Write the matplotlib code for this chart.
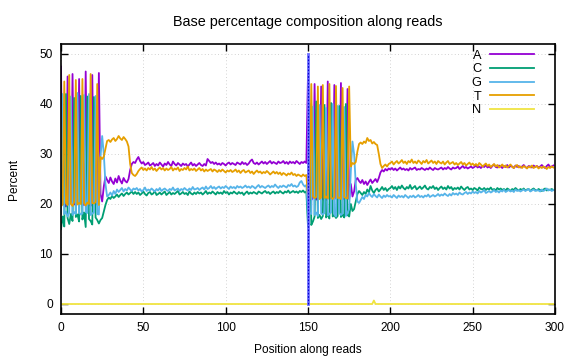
import numpy as np
import matplotlib
matplotlib.use("Agg")
import matplotlib.pyplot as plt

# ── Daten: Basenanteile je Position (Read 1: 0-149, Read 2: 150-299) ─────────

a_read1 = [47.5, 20.5, 20.0, 19.5, 45.5, 20.0, 20.5, 46.0, 20.0, 19.8,
           20.2, 45.0, 20.5, 20.0, 19.8, 46.5, 20.0, 20.3, 19.6, 45.8,
           20.2, 20.0, 19.9, 46.2, 22.0, 20.5, 23.5, 25.5, 24.8, 24.2,
           25.3, 24.5, 24.0, 25.1, 24.3, 25.6, 24.7, 24.1, 25.2, 24.6,
           24.3, 25.0, 26.8, 28.0, 28.4, 28.2, 28.9, 29.4, 28.6, 28.1,
           28.4, 27.8, 28.0, 28.3, 27.7, 27.9, 28.2, 27.6, 28.0, 27.7,
           28.3, 27.9, 27.5, 28.1, 27.8, 28.4, 27.9, 27.6, 28.5, 28.0,
           27.7, 28.2, 27.9, 27.6, 28.1, 27.8, 28.0, 27.5, 27.9, 28.3,
           27.7, 28.0, 27.6, 27.9, 28.2, 27.8, 27.6, 28.0, 27.7, 29.0,
           28.6, 28.2, 28.4, 28.0, 28.3, 27.9, 28.1, 27.8, 28.2, 28.0,
           27.7, 28.1, 28.3, 27.9, 28.2, 28.0, 27.8, 28.3, 28.1, 27.9,
           28.4, 28.0, 28.2, 27.8, 28.1, 28.6, 28.9, 28.2, 28.0, 28.3,
           27.9, 28.2, 28.5, 28.1, 28.4, 28.0, 28.3, 28.6, 28.1, 28.4,
           28.2, 28.0, 28.5, 28.2, 28.3, 28.6, 28.1, 28.4, 28.0, 28.5,
           28.2, 28.4, 28.1, 28.6, 28.3, 28.0, 28.4, 28.2, 28.5, 28.2]
c_read1 = [15.0, 17.5, 15.5, 42.0, 17.2, 16.0, 18.0, 16.6, 41.2, 17.4,
           17.9, 16.5, 41.6, 16.9, 18.3, 15.4, 41.5, 17.0, 16.6, 15.9,
           41.4, 17.3, 16.8, 16.1, 16.8, 17.2, 18.5, 19.8, 20.8, 21.3,
           21.0, 21.6, 21.2, 21.5, 21.9, 21.4, 21.8, 22.1, 21.6, 22.0,
           22.3, 21.9, 22.2, 22.5, 22.0, 22.4, 22.0, 22.3, 21.8, 22.1,
           22.5, 22.0, 21.7, 22.2, 22.4, 21.9, 22.1, 22.6, 21.8, 22.0,
           22.3, 21.9, 22.2, 22.5, 21.8, 22.1, 22.4, 21.9, 22.2, 22.0,
           22.3, 22.6, 21.9, 22.1, 22.4, 22.0, 22.2, 21.8, 22.5, 22.1,
           21.9, 22.3, 22.0, 22.4, 22.1, 22.3, 21.9, 22.2, 22.6, 22.0,
           22.3, 22.1, 22.5, 22.2, 21.9, 22.4, 22.1, 22.3, 22.0, 22.6,
           22.2, 22.4, 21.9, 22.3, 22.1, 22.5, 22.2, 22.0, 22.4, 22.1,
           22.3, 21.8, 22.2, 22.5, 22.0, 22.3, 22.1, 22.4, 22.2, 22.0,
           22.5, 22.3, 22.1, 22.4, 22.6, 22.2, 22.4, 22.0, 22.3, 22.5,
           22.1, 22.4, 22.2, 22.6, 22.3, 22.1, 22.5, 22.3, 22.7, 22.2,
           22.4, 22.6, 22.3, 22.5, 22.2, 22.6, 22.4, 22.7, 22.3, 22.5]
g_read1 = [18.0, 42.0, 18.0, 18.5, 17.5, 18.2, 41.5, 17.8, 18.4, 18.0,
           42.2, 18.3, 17.9, 18.1, 41.8, 18.4, 18.2, 42.0, 17.8, 18.1,
           18.3, 41.6, 18.0, 17.9, 29.5, 33.6, 30.0, 24.0, 21.5, 21.8,
           22.3, 21.7, 22.6, 22.0, 22.9, 22.4, 22.8, 23.2, 22.5, 23.0,
           22.7, 23.3, 22.9, 22.6, 23.1, 22.9, 23.2, 22.7, 23.0, 22.5,
           22.8, 23.3, 22.6, 22.9, 22.7, 23.1, 22.8, 22.5, 23.0, 22.7,
           23.2, 22.6, 22.9, 23.1, 22.8, 22.6, 23.0, 22.8, 23.3, 22.7,
           22.9, 23.1, 22.6, 23.0, 22.8, 23.2, 22.9, 22.7, 23.1, 22.8,
           23.4, 22.9, 23.0, 23.2, 22.8, 23.1, 23.3, 22.9, 23.5, 23.0,
           23.2, 23.6, 23.1, 23.4, 23.0, 23.3, 23.5, 23.1, 23.4, 23.2,
           23.6, 23.3, 23.0, 23.5, 23.2, 23.4, 23.1, 23.6, 23.3, 23.5,
           23.2, 23.4, 23.7, 23.3, 23.5, 23.2, 23.6, 23.4, 23.1, 23.5,
           23.8, 23.3, 23.6, 23.4, 23.2, 23.5, 23.7, 23.3, 23.6, 23.4,
           23.9, 23.5, 23.2, 23.6, 23.4, 23.7, 23.5, 23.3, 23.8, 23.6,
           24.0, 23.5, 23.7, 23.4, 23.6, 24.3, 24.6, 23.9, 23.5, 23.8]
t_read1 = [19.5, 20.0, 44.5, 20.2, 19.8, 45.8, 20.0, 19.6, 20.4, 44.8,
           19.9, 20.2, 20.0, 45.0, 20.1, 19.7, 20.3, 20.0, 46.0, 20.2,
           20.1, 20.4, 44.0, 19.8, 29.4, 29.0, 29.5, 31.0, 32.6, 32.8,
           32.4, 32.9, 33.2, 32.6, 33.0, 33.6, 33.1, 32.8, 33.4, 33.0,
           32.5, 31.5, 28.0, 26.2, 25.8, 25.6, 26.0, 26.6, 27.0, 27.3,
           26.8, 27.1, 26.7, 27.2, 26.9, 27.4, 26.8, 27.1, 26.6, 27.0,
           27.3, 26.9, 27.2, 26.7, 27.1, 26.8, 27.0, 27.4, 26.7, 27.1,
           26.9, 27.3, 26.6, 27.0, 26.8, 27.2, 26.9, 27.5, 26.7, 27.0,
           26.8, 27.1, 26.6, 26.9, 27.2, 26.7, 27.0, 26.5, 26.9, 26.6,
           26.8, 27.0, 26.5, 26.9, 26.7, 26.4, 26.8, 26.5, 26.9, 26.6,
           26.3, 26.7, 26.5, 26.8, 26.4, 26.6, 26.9, 26.4, 26.7, 26.2,
           26.6, 26.8, 26.3, 26.5, 26.7, 26.2, 26.5, 26.0, 26.4, 26.7,
           26.3, 26.5, 26.1, 26.4, 26.2, 26.6, 26.3, 25.9, 26.2, 26.5,
           26.1, 26.4, 26.0, 26.3, 25.8, 26.2, 26.0, 25.7, 26.1, 25.9,
           26.3, 25.8, 26.0, 25.6, 25.9, 25.7, 25.5, 25.9, 25.6, 25.8]

a_read2 = [46.0, 21.0, 20.8, 21.2, 44.0, 21.0, 20.7, 21.3, 43.5, 20.9,
           21.1, 20.8, 44.5, 21.0, 21.2, 20.9, 43.8, 21.1, 20.8, 21.0,
           44.2, 21.2, 20.9, 21.1, 43.0, 21.0, 24.0, 21.5, 22.5, 24.8,
           25.2, 24.6, 24.2, 24.8, 24.0, 24.5, 23.8, 24.4, 24.9, 24.2,
           24.6, 25.0, 24.4, 25.2, 26.3, 26.8, 26.5, 27.0, 26.7, 27.1,
           26.9, 27.2, 26.8, 27.1, 26.7, 27.0, 27.3, 26.9, 27.1, 26.8,
           27.0, 26.7, 27.2, 26.9, 27.1, 27.3, 26.8, 27.0, 26.9, 27.2,
           27.0, 26.8, 27.1, 26.9, 27.3, 27.0, 26.8, 27.2, 27.0, 26.9,
           27.1, 27.3, 26.9, 27.2, 27.0, 27.4, 27.1, 26.9, 27.3, 27.1,
           27.2, 27.5, 27.0, 27.3, 27.6, 27.2, 27.4, 27.1, 27.3, 27.5,
           27.2, 27.4, 27.7, 27.3, 27.5, 27.2, 27.6, 27.4, 27.8, 27.3,
           27.5, 27.2, 27.6, 27.9, 27.4, 27.3, 27.7, 27.5, 27.2, 27.6,
           27.4, 27.8, 27.3, 27.6, 27.5, 27.2, 27.7, 27.4, 27.6, 27.3,
           27.5, 27.8, 27.4, 27.2, 27.6, 27.5, 27.3, 27.7, 27.4, 27.6,
           27.3, 27.5, 27.8, 27.4, 27.2, 27.6, 27.9, 27.4, 27.5, 27.7]
c_read2 = [15.5, 40.0, 15.8, 16.5, 17.5, 40.5, 17.2, 17.8, 17.0, 17.6,
           39.8, 17.3, 17.9, 17.1, 40.2, 17.5, 17.8, 17.2, 17.6, 39.6,
           17.4, 17.9, 17.3, 40.0, 17.8, 17.5, 20.0, 18.6, 19.0, 20.5,
           22.0, 22.6, 22.2, 21.8, 22.4, 22.0, 22.9, 22.3, 23.6, 22.7,
           22.2, 22.8, 23.1, 22.5, 22.9, 23.4, 22.8, 23.2, 22.6, 23.0,
           23.2, 23.6, 23.0, 23.4, 22.8, 23.5, 23.1, 23.7, 23.2, 22.9,
           23.4, 23.1, 23.8, 23.0, 23.3, 23.6, 22.9, 23.2, 23.5, 23.0,
           23.3, 23.7, 23.1, 22.9, 23.4, 23.2, 23.6, 23.0, 23.3, 22.8,
           23.2, 23.5, 23.0, 23.3, 22.9, 23.6, 23.1, 23.4, 22.8, 23.2,
           23.0, 23.3, 22.9, 23.5, 23.1, 22.8, 23.2, 23.4, 22.9, 23.1,
           22.8, 23.2, 23.0, 22.7, 23.3, 23.0, 22.9, 23.2, 22.8, 23.1,
           22.9, 23.3, 22.8, 23.0, 22.7, 23.2, 22.9, 23.1, 22.8, 23.0,
           22.7, 23.1, 22.9, 22.6, 23.0, 22.8, 23.2, 22.9, 22.7, 23.0,
           22.8, 23.1, 22.7, 22.9, 23.0, 22.6, 22.9, 23.1, 22.8, 22.7,
           23.0, 22.8, 22.6, 22.9, 23.1, 22.7, 22.9, 22.8, 23.0, 22.8]
g_read2 = [17.8, 18.2, 18.0, 39.5, 17.8, 18.3, 17.6, 39.8, 18.1, 17.9,
           18.2, 39.2, 17.7, 18.0, 18.3, 40.0, 17.9, 17.5, 39.6, 18.2,
           17.8, 18.1, 39.4, 17.6, 18.2, 19.0, 26.5, 32.5, 30.0, 24.0,
           20.5, 20.2, 20.8, 21.4, 21.0, 21.8, 21.5, 22.2, 21.7, 21.4,
           22.0, 21.6, 21.3, 21.9, 21.5, 21.2, 21.7, 21.4, 21.8, 21.5,
           21.6, 21.3, 21.8, 21.5, 21.2, 21.7, 21.4, 21.6, 21.3, 21.8,
           21.5, 21.2, 21.6, 21.4, 21.7, 21.3, 21.5, 21.8, 21.4, 21.6,
           21.3, 21.7, 21.5, 21.9, 21.4, 21.6, 21.8, 21.5, 21.7, 22.0,
           21.6, 21.9, 21.7, 22.1, 21.8, 21.6, 22.0, 21.7, 22.2, 21.9,
           22.1, 21.8, 22.3, 22.0, 21.9, 22.2, 22.4, 22.0, 22.3, 22.1,
           22.5, 22.2, 22.4, 22.1, 22.6, 22.3, 22.5, 22.8, 22.2, 22.4,
           22.6, 22.3, 22.5, 22.8, 22.4, 22.6, 22.3, 22.7, 22.5, 22.9,
           22.4, 22.6, 22.8, 22.5, 22.7, 22.4, 22.9, 22.6, 22.8, 22.5,
           22.7, 22.9, 22.6, 22.8, 23.0, 22.5, 22.7, 22.9, 22.6, 22.8,
           22.7, 22.5, 22.9, 22.6, 22.8, 23.1, 22.7, 22.9, 22.6, 22.8]
t_read2 = [21.3, 21.0, 44.0, 21.5, 21.2, 21.4, 43.5, 21.0, 21.3, 43.8,
           21.2, 21.5, 21.1, 44.0, 21.3, 21.0, 21.4, 43.6, 21.2, 21.3,
           21.0, 43.2, 21.4, 21.2, 21.1, 43.5, 27.5, 28.2, 28.0, 28.4,
           30.5, 32.0, 32.3, 32.0, 32.5, 32.2, 33.2, 32.6, 32.8, 32.1,
           32.4, 32.0, 31.8, 30.0, 28.0, 27.2, 27.6, 27.9, 27.5, 28.0,
           28.2, 28.5, 27.9, 28.3, 28.6, 28.1, 28.4, 28.8, 28.2, 28.5,
           28.0, 28.6, 28.3, 28.9, 28.2, 28.5, 28.1, 28.7, 28.4, 28.0,
           28.6, 28.3, 28.8, 28.1, 28.4, 28.7, 28.2, 28.5, 28.0, 28.6,
           28.3, 28.1, 28.5, 27.9, 28.3, 28.6, 28.0, 28.2, 28.4, 27.9,
           28.2, 27.8, 28.1, 28.4, 27.9, 28.2, 27.7, 28.0, 28.3, 27.8,
           28.1, 27.7, 28.0, 27.6, 28.2, 27.9, 27.5, 27.8, 28.1, 27.6,
           27.9, 27.4, 27.7, 28.0, 27.5, 27.8, 27.3, 27.6, 27.9, 27.4,
           27.7, 27.3, 27.6, 27.9, 27.4, 27.2, 27.6, 27.8, 27.3, 27.5,
           27.2, 27.6, 27.4, 27.1, 27.5, 27.3, 27.7, 27.2, 27.4, 27.6,
           27.1, 27.4, 27.2, 27.5, 27.3, 27.0, 27.4, 27.2, 27.5, 27.3]

# N ist praktisch ueberall 0, nur ein kleiner Ausreisser bei ~190
n_all = [0.0] * 190 + [0.7] + [0.0] * 109

bases  = ["A", "C", "G", "T", "N"]
colors = ["#9400d3", "#009e73", "#56b4e9", "#e69f00", "#f0e442"]
read_boundary = 150


def main():
    plt.rcParams["font.family"] = ["Liberation Sans", "DejaVu Sans"]
    plt.rcParams["font.size"] = 8.6

    series = [a_read1 + a_read2, c_read1 + c_read2, g_read1 + g_read2,
              t_read1 + t_read2, n_all]

    fig = plt.figure(figsize=(5.76, 3.6), dpi=100)
    ax = fig.add_axes([61 / 576, 1 - 314 / 360, 494 / 576, 270 / 360])

    for name, col, vals in zip(bases, colors, series):
        ax.plot(np.arange(len(vals)), vals, color=col, lw=1.3, label=name)

    # Grenze zwischen Read 1 und Read 2
    ax.plot([read_boundary, read_boundary], [0, 50], color="#6b6bff", lw=2.0)
    ax.plot([read_boundary, read_boundary], [0, 50], color="#0000d0",
            lw=0.8, dashes=(1.5, 1.5))

    ax.set_xlim(0, 300); ax.set_ylim(-2, 52)
    ax.set_xticks(np.arange(0, 301, 50)); ax.set_yticks(np.arange(0, 51, 10))
    ax.tick_params(direction="in", top=True, right=True, length=5,
                   width=1, pad=6)
    for sp in ax.spines.values():
        sp.set_linewidth(1.2)
    ax.grid(True, color="#c4c4c4", lw=0.6, linestyle=(0, (1, 3)))
    ax.set_axisbelow(True)

    ax.set_title("Base percentage composition along reads", pad=13)
    ax.set_xlabel("Position along reads", labelpad=7)
    ax.set_ylabel("Percent", labelpad=14)

    ax.legend(loc="upper right", bbox_to_anchor=(0.9575, 0.978), frameon=False,
              markerfirst=False, handlelength=3.45, handletextpad=0.65,
              labelspacing=0.12, borderpad=0, borderaxespad=0, fontsize=9.2)

    fig.savefig("out.png", dpi=100)


if __name__ == "__main__":
    main()
